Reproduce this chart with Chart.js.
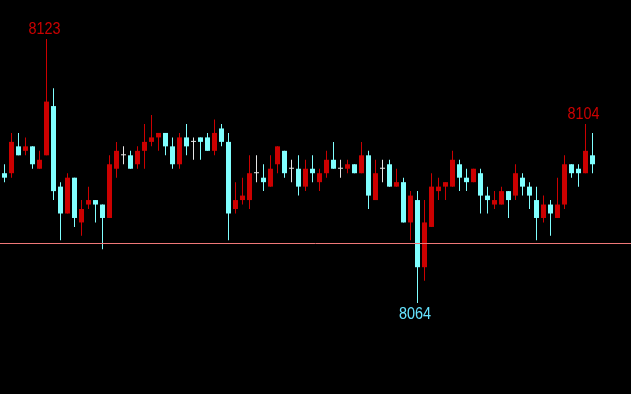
<!DOCTYPE html>
<html><head><meta charset="utf-8">
<script src="https://cdn.jsdelivr.net/npm/chart.js@4/dist/chart.umd.min.js"></script>
<style>html,body{margin:0;padding:0;background:#000;overflow:hidden}canvas{display:block}</style>
</head><body>
<canvas id="c" width="631" height="394"></canvas>
<script>
const opens = [8093,8093,8099,8098,8099,8094,8097,8108,8090,8084,
 8092,8082,8086,8087,8086,8083,8094,8097,8097,8095,
 8098,8100,8101,8102,8099,8095,8101,8100,8101,8101,
 8098,8103,8100,8085,8087,8087,8093,8092,8090,8095,
 8098,8094,8094,8090,8094,8091,8093,8096,8094,8094,
 8095,8093,8097,8087,8094,8095,8090,8091,8082,8087,
 8072,8081,8089,8090,8090,8095,8092,8091,8093,8088,
 8086,8086,8089,8088,8092,8090,8087,8083,8086,8083,
 8086,8095,8094,8093,8097];
const highs = [8095,8102,8102,8101,8099,8098,8123,8112,8091,8093,
 8092,8087,8090,8087,8086,8097,8100,8099,8098,8099,
 8104,8106,8102,8102,8101,8102,8104,8101,8101,8102,
 8105,8104,8102,8091,8092,8097,8097,8095,8097,8099,
 8098,8096,8097,8096,8097,8094,8098,8100,8096,8096,
 8095,8100,8098,8096,8096,8096,8094,8092,8089,8089,
 8087,8093,8092,8091,8098,8096,8094,8094,8094,8090,
 8089,8090,8089,8095,8093,8091,8090,8088,8087,8092,
 8097,8095,8095,8104,8102];
const lows = [8091,8092,8097,8097,8094,8094,8097,8087,8078,8084,
 8081,8079,8085,8082,8076,8083,8092,8095,8094,8094,
 8094,8099,8098,8097,8094,8094,8097,8096,8096,8098,
 8097,8099,8078,8084,8086,8085,8091,8089,8090,8093,
 8092,8091,8088,8089,8091,8089,8092,8094,8092,8093,
 8093,8093,8085,8087,8091,8090,8090,8082,8078,8064,
 8069,8081,8087,8087,8090,8089,8089,8091,8084,8084,
 8085,8086,8083,8087,8088,8085,8078,8082,8079,8083,
 8085,8092,8090,8093,8093];
const closes = [8092,8100,8097,8099,8095,8096,8109,8089,8084,8092,
 8083,8085,8087,8086,8083,8095,8098,8097,8094,8098,
 8100,8101,8102,8099,8095,8101,8099,8100,8100,8098,
 8102,8100,8084,8087,8088,8093,8093,8091,8094,8099,
 8093,8094,8090,8094,8093,8093,8096,8094,8094,8095,
 8093,8097,8088,8093,8094,8090,8091,8082,8088,8072,
 8082,8090,8090,8091,8096,8092,8091,8094,8088,8087,
 8087,8089,8087,8093,8090,8088,8083,8086,8084,8086,
 8095,8093,8093,8098,8095];
const refLine = 8077.4;
const markIndex = [6, 83, 59];
const markKind = ['high', 'high', 'low'];

const UP = '#cc0000', DOWN = '#80ffff', FLAT = '#e6e6e6';
const colorOf = i => closes[i] > opens[i] ? UP : (closes[i] < opens[i] ? DOWN : FLAT);
const idx = opens.map((_, i) => i);

const overlay = {
  id: 'overlay',
  afterDatasetsDraw(chart) {
    const ctx = chart.ctx, xs = chart.scales.x, ys = chart.scales.y;
    ctx.save();
    const ly = Math.round(ys.getPixelForValue(refLine)) + 0.5;
    ctx.strokeStyle = '#f07878';
    ctx.lineWidth = 1;
    ctx.beginPath(); ctx.moveTo(0, ly); ctx.lineTo(chart.width, ly); ctx.stroke();
    ctx.font = '16px "Liberation Sans", sans-serif';
    ctx.textAlign = 'center';
    ctx.textBaseline = 'alphabetic';
    const drawText = (txt, x, y, col) => {
      ctx.save();
      ctx.translate(x, y);
      ctx.scale(0.9, 1.04);
      ctx.fillStyle = col;
      ctx.fillText(txt, 0, 0);
      ctx.restore();
    };
    markIndex.forEach((i, k) => {
      const x = xs.getPixelForValue(i);
      if (markKind[k] === 'high') {
        const y = ys.getPixelForValue(highs[i]);
        drawText(String(highs[i]), x - 2, y - 5, UP);
      } else {
        const y = ys.getPixelForValue(lows[i]);
        drawText(String(lows[i]), x - 2.5, y + 16, '#66e4ff');
      }
    });
    ctx.restore();
  }
};

new Chart(document.getElementById('c'), {
  type: 'bar',
  data: {
    datasets: [
      {
        label: 'wick',
        data: idx.map(i => ({x: i, y: [lows[i], highs[i]]})),
        backgroundColor: idx.map(colorOf),
        barThickness: 1,
        grouped: false,
        borderWidth: 0,
        inflateAmount: 0,
        order: 2
      },
      {
        label: 'body',
        data: idx.map(i => ({x: i, y: [opens[i], closes[i]]})),
        backgroundColor: idx.map(colorOf),
        barThickness: 5,
        grouped: false,
        borderWidth: 0,
        inflateAmount: 0,
        minBarLength: 1,
        order: 1
      }
    ]
  },
  options: {
    responsive: false,
    animation: false,
    layout: {padding: 0},
    plugins: {legend: {display: false}, tooltip: {enabled: false}},
    scales: {
      x: {type: 'linear', display: false, offset: false, min: -0.642857, max: 89.5},
      y: {type: 'linear', display: false, min: 8043.67, max: 8131.7, beginAtZero: false}
    }
  },
  plugins: [overlay]
});
</script>
</body></html>
